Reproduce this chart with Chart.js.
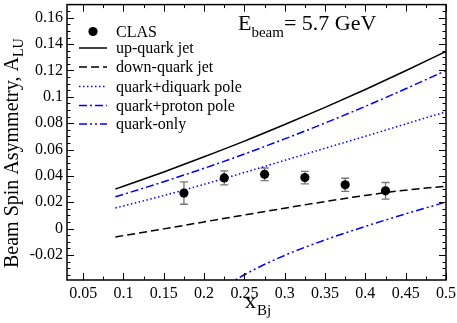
<!DOCTYPE html>
<html><head><meta charset="utf-8">
<script src="https://cdn.jsdelivr.net/npm/chart.js@4/dist/chart.umd.min.js"></script>
<style>html,body{margin:0;padding:0;background:#fff;}canvas{display:block;}</style>
</head><body>
<canvas id="c" width="457" height="323"></canvas>
<script>
// ---- data ----
const xCurve      = [0.09, 0.10, 0.15, 0.20, 0.25, 0.30, 0.35, 0.40, 0.45, 0.50];
const upQuark     = [0.0300, 0.0321, 0.0430, 0.0545, 0.0664, 0.0790, 0.0920, 0.1056, 0.1198, 0.1345];
const downQuark   = [-0.0063, -0.0053, -0.0002, 0.0051, 0.0103, 0.0155, 0.0205, 0.0252, 0.0292, 0.0322];
const diquarkPole = [0.0157, 0.0172, 0.0251, 0.0336, 0.0426, 0.0518, 0.0610, 0.0701, 0.0794, 0.0887];
const protonPole  = [0.0242, 0.0260, 0.0356, 0.0458, 0.0566, 0.0681, 0.0801, 0.0928, 0.1061, 0.1200];
const quarkOnly   = [null, null, null, -0.0540, -0.0350, -0.0203, -0.0086, 0.0017, 0.0112, 0.0202];

const clasX   = [0.175, 0.225, 0.275, 0.325, 0.375, 0.425];
const clasY   = [0.0270, 0.0385, 0.0412, 0.0387, 0.0332, 0.0287];
const clasErr = [0.0085, 0.0053, 0.0048, 0.0048, 0.0050, 0.0063];

const seriesLabels = ['CLAS', 'up-quark jet', 'down-quark jet', 'quark+diquark pole', 'quark+proton pole', 'quark-only'];

const xTicks      = [0.05, 0.10, 0.15, 0.20, 0.25, 0.30, 0.35, 0.40, 0.45, 0.50];
const xTickLabels = ['0.05', '0.1', '0.15', '0.2', '0.25', '0.3', '0.35', '0.4', '0.45', '0.5'];
const xMinor      = [0.075, 0.125, 0.175, 0.225, 0.275, 0.325, 0.375, 0.425, 0.475];
const yTicks      = [-0.02, 0, 0.02, 0.04, 0.06, 0.08, 0.10, 0.12, 0.14, 0.16];
const yTickLabels = ['-0.02', '0', '0.02', '0.04', '0.06', '0.08', '0.1', '0.12', '0.14', '0.16'];
const yMinor      = [-0.035, -0.03, -0.025, -0.015, -0.01, -0.005, 0.005, 0.01, 0.015, 0.025, 0.03, 0.035,
                     0.045, 0.05, 0.055, 0.065, 0.07, 0.075, 0.085, 0.09, 0.095, 0.105, 0.11, 0.115,
                     0.125, 0.13, 0.135, 0.145, 0.15, 0.155, 0.165];

const yTitle = 'Beam Spin Asymmetry, A', yTitleSub = 'LU';
const xTitle = 'x', xTitleSub = 'Bj';
const noteMain = 'E', noteSub = 'beam', noteRest = '= 5.7 GeV';

const FONT = '"Liberation Serif", "Times New Roman", serif';
const BLUE = '#0000ff';

function pts(xs, ys) { return xs.map((x, i) => ({x: x, y: ys[i]})); }
const lineBase = {showLine: true, pointRadius: 0, pointHoverRadius: 0, fill: false, borderWidth: 1.5,
                  cubicInterpolationMode: 'monotone', spanGaps: false};

const datasets = [
  {label: seriesLabels[0], data: pts(clasX, clasY), showLine: false, pointRadius: 4.6,
   pointStyle: 'circle', backgroundColor: '#000', borderColor: '#000', borderWidth: 0},
  Object.assign({label: seriesLabels[1], data: pts(xCurve, upQuark), borderColor: '#000', borderDash: []}, lineBase),
  Object.assign({label: seriesLabels[2], data: pts(xCurve, downQuark), borderColor: '#000', borderDash: [8, 4]}, lineBase),
  Object.assign({label: seriesLabels[3], data: pts(xCurve, diquarkPole), borderColor: BLUE, borderDash: [1.5, 2.5]}, lineBase),
  Object.assign({label: seriesLabels[4], data: pts(xCurve, protonPole), borderColor: BLUE, borderDash: [8, 3, 2, 3]}, lineBase),
  Object.assign({label: seriesLabels[5], data: pts(xCurve, quarkOnly), borderColor: BLUE, borderDash: [8, 3, 2, 3, 2, 3]}, lineBase)
];

const errorBars = {
  id: 'errorBars',
  beforeDatasetsDraw(chart) {
    const c = chart.ctx, xs = chart.scales.x, ys = chart.scales.y;
    c.save();
    c.strokeStyle = '#777';
    c.lineWidth = 1.3;
    clasX.forEach((x, i) => {
      const px = xs.getPixelForValue(x);
      const y1 = ys.getPixelForValue(clasY[i] + clasErr[i]);
      const y2 = ys.getPixelForValue(clasY[i] - clasErr[i]);
      c.beginPath();
      c.moveTo(px, y1); c.lineTo(px, y2);
      c.moveTo(px - 4, y1); c.lineTo(px + 4, y1);
      c.moveTo(px - 4, y2); c.lineTo(px + 4, y2);
      c.stroke();
    });
    c.restore();
  }
};

const frameTicks = {
  id: 'frameTicks',
  afterDatasetsDraw(chart) {
    const c = chart.ctx, a = chart.chartArea, xs = chart.scales.x, ys = chart.scales.y;
    c.save();
    c.strokeStyle = '#000';
    c.lineWidth = 1;
    c.beginPath();
    const major = 7, minor = 3.5;
    const vt = (v, len) => { const p = Math.round(xs.getPixelForValue(v)) + 0.5;
      c.moveTo(p, a.bottom); c.lineTo(p, a.bottom - len); c.moveTo(p, a.top); c.lineTo(p, a.top + len); };
    const ht = (v, len) => { const p = Math.round(ys.getPixelForValue(v)) + 0.5;
      c.moveTo(a.left, p); c.lineTo(a.left + len, p); c.moveTo(a.right, p); c.lineTo(a.right - len, p); };
    xTicks.forEach(v => vt(v, major)); xMinor.forEach(v => vt(v, minor));
    yTicks.forEach(v => ht(v, major)); yMinor.forEach(v => ht(v, minor));
    c.stroke();
    c.lineWidth = 1.5;
    c.strokeRect(a.left, a.top, a.right - a.left, a.bottom - a.top);
    c.restore();
  }
};

const texts = {
  id: 'texts',
  afterDraw(chart) {
    const c = chart.ctx;
    c.save();
    c.fillStyle = '#000';
    c.textBaseline = 'alphabetic';
    c.textAlign = 'left';
    // y-axis title
    c.save();
    c.translate(17.5, 268);
    c.rotate(-Math.PI / 2);
    c.font = '20px ' + FONT;
    c.fillText(yTitle, 0, 0);
    const w = c.measureText(yTitle).width;
    c.font = '14px ' + FONT;
    c.fillText(yTitleSub, w, 5);
    c.restore();
    // x-axis title
    c.font = '22px ' + FONT;
    c.fillText(xTitle, 245, 308);
    const wx = c.measureText(xTitle).width;
    c.font = '15px ' + FONT;
    c.fillText(xTitleSub, 245 + wx + 1, 315);
    // energy note
    c.font = '22px ' + FONT;
    c.fillText(noteMain, 238, 29.5);
    const we = c.measureText(noteMain).width;
    c.font = '15px ' + FONT;
    c.fillText(noteSub, 238 + we, 36.5);
    const wb = c.measureText(noteSub).width;
    c.font = '22px ' + FONT;
    c.fillText(noteRest, 238 + we + wb, 29.5);
    // legend
    const rows = [31.5, 48, 67, 86.5, 105.5, 124];
    c.font = '16px ' + FONT;
    c.textBaseline = 'middle';
    chart.data.datasets.forEach((ds, i) => {
      const y = rows[i];
      if (i === 0) {
        c.beginPath(); c.arc(93, y, 4.6, 0, Math.PI * 2); c.fill();
      } else {
        c.save();
        c.strokeStyle = ds.borderColor; c.lineWidth = 1.5; c.setLineDash(ds.borderDash || []);
        c.beginPath(); c.moveTo(79, y); c.lineTo(107, y); c.stroke();
        c.restore();
      }
      c.fillText(ds.label, 116, y + 1);
    });
    c.restore();
  }
};

function zeroPad(s) { s.paddingTop = 0; s.paddingBottom = 0; s.paddingLeft = 0; s.paddingRight = 0; }

new Chart(document.getElementById('c'), {
  type: 'scatter',
  data: {datasets: datasets},
  options: {
    responsive: false, animation: false, devicePixelRatio: 1,
    layout: {padding: {left: 0, right: 11, top: 1, bottom: 0}},
    plugins: {legend: {display: false}, tooltip: {enabled: false}, title: {display: false}},
    scales: {
      x: {
        type: 'linear', position: 'bottom', min: 0.03, max: 0.5,
        afterBuildTicks: s => { s.ticks = xTicks.map(v => ({value: v})); },
        afterFit: s => { s.height = 43; zeroPad(s); },
        grid: {display: false, drawTicks: false}, border: {display: false},
        ticks: {font: {family: FONT, size: 16}, color: '#000', padding: 4, autoSkip: false, maxRotation: 0,
                callback: (v, i) => xTickLabels[i]}
      },
      y: {
        type: 'linear', position: 'left', min: -0.039, max: 0.17,
        afterBuildTicks: s => { s.ticks = yTicks.map(v => ({value: v})); },
        afterFit: s => { s.width = 67; zeroPad(s); },
        grid: {display: false, drawTicks: false}, border: {display: false},
        ticks: {font: {family: FONT, size: 16}, color: '#000', padding: 4, autoSkip: false,
                callback: (v, i) => yTickLabels[i]}
      }
    }
  },
  plugins: [errorBars, frameTicks, texts]
});
</script>
</body></html>
